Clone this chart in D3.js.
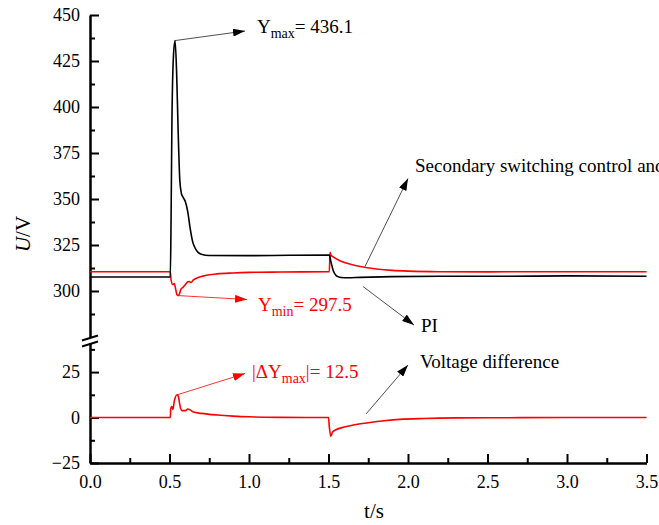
<!DOCTYPE html>
<html>
<head>
<meta charset="utf-8">
<script src="https://cdn.jsdelivr.net/npm/d3@7"></script>
<style>
  html, body { margin: 0; padding: 0; background: #fff; }
  svg { display: block; }
</style>
</head>
<body>
<svg id="chart" width="659" height="525"></svg>
<script>
// DC-bus voltage under PI control (black)
const piTime = [0, 0.505, 0.51, 0.515, 0.525, 0.535, 0.545, 0.555, 0.565, 0.575, 0.585, 0.6, 0.615, 0.63, 0.645, 0.66, 0.68, 0.7, 0.75, 1.0, 1.25, 1.505, 1.515, 1.53, 1.545, 1.56, 1.58, 1.62, 1.7, 1.9, 2.2, 2.6, 3.0, 3.5];
const piVoltage = [307.6, 307.6, 340, 390, 428, 436.1, 418, 385, 360, 353, 351, 348.5, 343, 334, 327, 323.5, 321, 320, 319.3, 319.2, 319.4, 319.5, 316, 311, 308.7, 307.8, 307.3, 307.2, 307.4, 307.8, 308, 308, 308.2, 308];

// DC-bus voltage under secondary switching control (red)
const sscTime = [0, 0.505, 0.51, 0.52, 0.53, 0.54, 0.548, 0.555, 0.563, 0.572, 0.585, 0.6, 0.615, 0.625, 0.635, 0.65, 0.68, 0.72, 0.8, 0.9, 1.0, 1.2, 1.505, 1.51, 1.515, 1.53, 1.56, 1.6, 1.65, 1.7, 1.8, 1.9, 2.0, 2.2, 2.5, 3.0, 3.5];
const sscVoltage = [310.5, 310.5, 306, 303.5, 304, 300.5, 297.8, 297.5, 298.5, 301, 302, 303.5, 305, 305.2, 304.6, 306, 307.3, 308.3, 309.3, 309.8, 310.1, 310.3, 310.5, 321, 319.5, 318.5, 317, 315.5, 314.3, 313.3, 312, 311.2, 310.8, 310.5, 310.4, 310.5, 310.5];

// Voltage difference (lower panel)
const diffTime = [0, 0.505, 0.508, 0.515, 0.522, 0.53, 0.548, 0.556, 0.563, 0.57, 0.58, 0.6, 0.615, 0.63, 0.65, 0.7, 0.8, 0.9, 1.0, 1.1, 1.2, 1.5, 1.505, 1.515, 1.525, 1.54, 1.6, 1.65, 1.75, 1.85, 1.95, 2.1, 2.3, 2.6, 3.0, 3.5];
const diffValue = [0, 0, 5, 6, 4.5, 9, 12.5, 11.5, 8, 5, 3.8, 3.8, 4.7, 4.2, 3, 2.3, 1.4, 0.8, 0.4, 0.2, 0.1, 0, -5, -10.3, -8, -7, -5.2, -4.2, -2.9, -1.8, -1, -0.5, -0.2, -0.1, 0, 0];

// Tick values
const xTicks = [0, 0.5, 1.0, 1.5, 2.0, 2.5, 3.0, 3.5];
const xMinorTicks = [0.25, 0.75, 1.25, 1.75, 2.25, 2.75, 3.25];
const yTopTicks = [300, 325, 350, 375, 400, 425, 450];
const yTopMinorTicks = [287.5, 312.5, 337.5, 362.5, 387.5, 412.5, 437.5];
const yBotTicks = [-25, 0, 25];
const yBotMinorTicks = [-12.5, 12.5, 37.5];

const svg = d3.select("#chart");
const FONT = "Liberation Serif";

const x = d3.scaleLinear().domain([0, 3.5]).range([90, 646.5]);
const yTop = d3.scaleLinear().domain([275, 450]).range([337, 15]);
const yBot = d3.scaleLinear().domain([-25, 41]).range([463, 343]);

// Axes
function styleAxis(g, size) {
  g.attr("font-family", null);
  g.selectAll(".domain").attr("stroke", "#000").attr("stroke-width", 2);
  g.selectAll(".tick line").attr("stroke", "#000").attr("stroke-width", 2);
  g.selectAll(".tick text").style("font-family", FONT).style("font-size", size + "px").attr("fill", "#000");
}

const gx = svg.append("g").attr("transform", "translate(0,463)")
  .call(d3.axisBottom(x).tickValues(xTicks).tickFormat(d3.format(".1f")).tickSizeInner(-9).tickSizeOuter(0).tickPadding(12));
styleAxis(gx, 18);
const gxm = svg.append("g").attr("transform", "translate(0,463)")
  .call(d3.axisBottom(x).tickValues(xMinorTicks).tickFormat("").tickSizeInner(-5).tickSizeOuter(0));
styleAxis(gxm, 18);

const gyt = svg.append("g").attr("transform", "translate(90,0)")
  .call(d3.axisLeft(yTop).tickValues(yTopTicks).tickSizeInner(-9).tickSizeOuter(0).tickPadding(10));
styleAxis(gyt, 18);
const gytm = svg.append("g").attr("transform", "translate(90,0)")
  .call(d3.axisLeft(yTop).tickValues(yTopMinorTicks).tickFormat("").tickSizeInner(-5).tickSizeOuter(0));
styleAxis(gytm, 18);

const gyb = svg.append("g").attr("transform", "translate(90,0)")
  .call(d3.axisLeft(yBot).tickValues(yBotTicks).tickSizeInner(-9).tickSizeOuter(0).tickPadding(10));
styleAxis(gyb, 18);
const gybm = svg.append("g").attr("transform", "translate(90,0)")
  .call(d3.axisLeft(yBot).tickValues(yBotMinorTicks).tickFormat("").tickSizeInner(-5).tickSizeOuter(0));
styleAxis(gybm, 18);

// Axis break marks
[yTop.range()[0] + 1, yBot.range()[1] + 1].forEach(yy => {
  svg.append("line").attr("x1", 82).attr("y1", yy + 2.5).attr("x2", 98).attr("y2", yy - 2.5)
    .attr("stroke", "#000").attr("stroke-width", 2);
});

// Curves
const lineTop = (ts, vs) => d3.line().curve(d3.curveMonotoneX)
  .x((d, i) => x(ts[i])).y((d, i) => yTop(vs[i]))(vs);
const lineBot = (ts, vs) => d3.line().curve(d3.curveMonotoneX)
  .x((d, i) => x(ts[i])).y((d, i) => yBot(vs[i]))(vs);

svg.append("path").attr("d", lineTop(sscTime, sscVoltage))
  .attr("fill", "none").attr("stroke", "#ff0000").attr("stroke-width", 1.6);
svg.append("path").attr("d", lineTop(piTime, piVoltage))
  .attr("fill", "none").attr("stroke", "#000").attr("stroke-width", 1.6);
svg.append("path").attr("d", lineBot(diffTime, diffValue))
  .attr("fill", "none").attr("stroke", "#ff0000").attr("stroke-width", 1.6);

// Arrow markers
const defs = svg.append("defs");
[["arrBlack", "#000"], ["arrRed", "#ff0000"]].forEach(([id, c]) => {
  defs.append("marker").attr("id", id).attr("viewBox", "0 0 10 10")
    .attr("refX", 10).attr("refY", 5).attr("markerWidth", 12).attr("markerHeight", 8)
    .attr("markerUnits", "userSpaceOnUse").attr("orient", "auto")
    .attr("preserveAspectRatio", "none")
    .append("path").attr("d", "M0,0 L10,5 L0,10 z").attr("fill", c);
});

function arrow(x1, y1, x2, y2, color, id) {
  svg.append("line").attr("x1", x1).attr("y1", y1).attr("x2", x2).attr("y2", y2)
    .attr("stroke", color).attr("stroke-width", 0.8).attr("marker-end", `url(#${id})`);
}

const peakI = piVoltage.indexOf(d3.max(piVoltage));
const minI = sscVoltage.indexOf(d3.min(sscVoltage));
const dMaxI = diffValue.indexOf(d3.max(diffValue));

arrow(x(piTime[peakI]), yTop(piVoltage[peakI]), 245, 31, "#222", "arrBlack");
arrow(x(sscTime[minI]), yTop(sscVoltage[minI]), 247, 299.5, "#ff0000", "arrRed");
arrow(x(diffTime[dMaxI]), yBot(diffValue[dMaxI]), 245, 373.5, "#ff0000", "arrRed");
arrow(365, 266.5, 408, 178.5, "#222", "arrBlack");
arrow(363, 286.5, 414, 325, "#222", "arrBlack");
arrow(366, 414, 408, 365, "#222", "arrBlack");

// Annotation text with subscripts
function txt(xp, yp, size, color) {
  return svg.append("text").attr("x", xp).attr("y", yp)
    .style("font-family", FONT).style("font-size", size + "px").attr("fill", color);
}
function subLabel(xp, yp, parts, color) {
  const t = txt(xp, yp, 19, color);
  parts.forEach(p => {
    const s = t.append("tspan").text(p.text);
    if (p.sub) s.style("font-size", "14px").attr("dy", 5);
    if (p.up) s.attr("dy", -5);
  });
}

subLabel(257, 33, [{ text: "Y" }, { text: "max", sub: true }, { text: "= " + piVoltage[peakI].toFixed(1), up: true }], "#000");
subLabel(258, 311, [{ text: "Y" }, { text: "min", sub: true }, { text: "= " + sscVoltage[minI].toFixed(1), up: true }], "#ff0000");
subLabel(252, 378, [{ text: "|ΔY" }, { text: "max", sub: true }, { text: "|= " + diffValue[dMaxI].toFixed(1), up: true }], "#ff0000");

txt(415, 172, 19, "#000").text("Secondary switching control and");
txt(421, 332, 19, "#000").text("PI");
txt(420, 368, 19, "#000").text("Voltage difference");

// Axis titles
const yl = svg.append("text").attr("transform", "translate(30,234) rotate(-90)")
  .attr("text-anchor", "middle").style("font-family", FONT).style("font-size", "21px").attr("fill", "#000");
yl.append("tspan").style("font-style", "italic").text("U");
yl.append("tspan").text("/V");

txt(374, 518, 21, "#000").attr("text-anchor", "middle").text("t/s");
</script>
</body>
</html>
